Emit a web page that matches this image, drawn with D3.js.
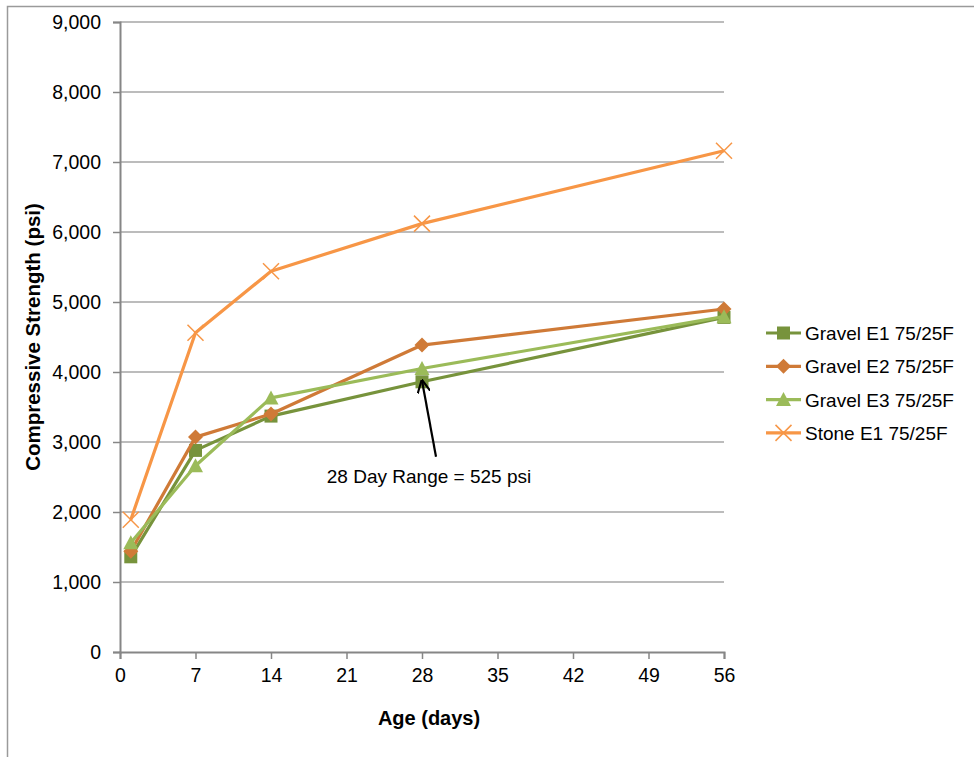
<!DOCTYPE html>
<html>
<head>
<meta charset="utf-8">
<script src="https://cdn.jsdelivr.net/npm/d3@7"></script>
<style>
  html, body { margin: 0; padding: 0; background: #fff; }
  svg { display: block; font-family: "Liberation Sans", Arial, sans-serif; }
</style>
</head>
<body>
<svg id="chart" width="974" height="757"></svg>
<script>
// Test ages (days)
const ages = [1, 7, 14, 28, 56];

// Compressive strength (psi) for each mix
const gravelE1 = [1360, 2880, 3370, 3860, 4780];
const gravelE2 = [1440, 3070, 3400, 4385, 4900];
const gravelE3 = [1560, 2660, 3630, 4050, 4790];
const stoneE1  = [1890, 4560, 5440, 6120, 7160];

const seriesNames = ["Gravel E1 75/25F", "Gravel E2 75/25F", "Gravel E3 75/25F", "Stone E1 75/25F"];
const xTicks = [0, 7, 14, 21, 28, 35, 42, 49, 56];
const yTicks = [0, 1000, 2000, 3000, 4000, 5000, 6000, 7000, 8000, 9000];

// Annotation: 28-day spread between highest and lowest gravel mix
const rangeNote = "28 Day Range = 525 psi";

const series = [
  { name: seriesNames[0], values: gravelE1, color: "#77933C", marker: "square" },
  { name: seriesNames[1], values: gravelE2, color: "#CF7A37", marker: "diamond" },
  { name: seriesNames[2], values: gravelE3, color: "#9BBB59", marker: "triangle" },
  { name: seriesNames[3], values: stoneE1,  color: "#F79646", marker: "cross" }
];

const svg = d3.select("#chart");
const plot = { left: 120, top: 22, right: 724, bottom: 652 };

const x = d3.scaleLinear().domain([0, 56]).range([plot.left, plot.right]);
const y = d3.scaleLinear().domain([0, 9000]).range([plot.bottom, plot.top]);

// Outer chart frame
svg.append("rect")
  .attr("x", 7.5).attr("y", 6.5)
  .attr("width", 1000).attr("height", 1000)
  .attr("fill", "none").attr("stroke", "#9a9a9a").attr("stroke-width", 1.5);

// Horizontal gridlines
svg.append("g")
  .selectAll("line")
  .data(yTicks.filter(d => d > 0))
  .join("line")
  .attr("x1", plot.left).attr("x2", plot.right)
  .attr("y1", d => y(d)).attr("y2", d => y(d))
  .attr("stroke", "#a6a6a6").attr("stroke-width", 1.5);

// Axes
const fmt = d3.format(",");
const yAxis = svg.append("g")
  .attr("transform", `translate(${plot.left},0)`)
  .call(d3.axisLeft(y).tickValues(yTicks).tickFormat(fmt).tickSize(7).tickPadding(12));
const xAxis = svg.append("g")
  .attr("transform", `translate(0,${plot.bottom})`)
  .call(d3.axisBottom(x).tickValues(xTicks).tickSize(7).tickPadding(9));

[yAxis, xAxis].forEach(g => {
  g.select(".domain").attr("stroke", "#868686").attr("stroke-width", 2);
  g.selectAll(".tick line").attr("stroke", "#868686").attr("stroke-width", 1.5);
  g.selectAll(".tick text")
    .attr("fill", "#000")
    .style("font-size", "19.5px")
    .style("font-family", "'Liberation Sans', Arial, sans-serif");
});

// Axis titles
svg.append("text")
  .attr("x", 429).attr("y", 725)
  .attr("text-anchor", "middle")
  .style("font-size", "20px").style("font-weight", "bold")
  .text("Age (days)");

svg.append("text")
  .attr("transform", `translate(40,${(plot.top + plot.bottom) / 2}) rotate(-90)`)
  .attr("text-anchor", "middle")
  .style("font-size", "20.5px").style("font-weight", "bold")
  .text("Compressive Strength (psi)");

// Marker drawing
function drawMarker(g, type, color) {
  if (type === "square") {
    g.append("rect").attr("x", -6.5).attr("y", -6.5).attr("width", 13).attr("height", 13).attr("fill", color);
  } else if (type === "diamond") {
    g.append("path").attr("d", "M0,-7.5L7.5,0L0,7.5L-7.5,0Z").attr("fill", color);
  } else if (type === "triangle") {
    g.append("path").attr("d", "M0,-7.5L7.5,6.5L-7.5,6.5Z").attr("fill", color);
  } else if (type === "cross") {
    g.append("path").attr("d", "M-8,-8L8,8M-8,8L8,-8")
      .attr("stroke", color).attr("stroke-width", 1.5).attr("fill", "none");
  }
}

const line = d3.line().x((d, i) => x(ages[i])).y(d => y(d));

series.forEach(s => {
  const g = svg.append("g");
  g.append("path")
    .attr("d", line(s.values))
    .attr("fill", "none")
    .attr("stroke", s.color)
    .attr("stroke-width", 3.2)
    .attr("stroke-linejoin", "round");
  s.values.forEach((v, i) => {
    const m = g.append("g").attr("transform", `translate(${x(ages[i])},${y(v)})`);
    drawMarker(m, s.marker, s.color);
  });
});

// Range annotation with arrow pointing at the 28-day low value
svg.append("defs").append("marker")
  .attr("id", "arrowhead")
  .attr("viewBox", "0 0 10 10")
  .attr("refX", 9).attr("refY", 5)
  .attr("markerWidth", 6).attr("markerHeight", 6)
  .attr("markerUnits", "strokeWidth")
  .attr("orient", "auto")
  .append("path")
  .attr("d", "M0,0L10,5L0,10")
  .attr("fill", "none").attr("stroke", "#000").attr("stroke-width", 1.6);

const arrowTail = { age: 29.3, psi: 2790 };
svg.append("line")
  .attr("x1", x(arrowTail.age)).attr("y1", y(arrowTail.psi))
  .attr("x2", x(28)).attr("y2", y(gravelE1[3]) - 1)
  .attr("stroke", "#000").attr("stroke-width", 2.2)
  .attr("marker-end", "url(#arrowhead)");

svg.append("text")
  .attr("x", 429).attr("y", 483)
  .attr("text-anchor", "middle")
  .style("font-size", "19px")
  .text(rangeNote);

// Legend
const legend = svg.append("g").attr("transform", "translate(766,333)");
series.forEach((s, i) => {
  const row = legend.append("g").attr("transform", `translate(0,${i * 33.3})`);
  row.append("line").attr("x1", 0).attr("x2", 35).attr("y1", 0).attr("y2", 0)
    .attr("stroke", s.color).attr("stroke-width", 3.2);
  const m = row.append("g").attr("transform", "translate(17.5,0)");
  drawMarker(m, s.marker, s.color);
  row.append("text")
    .attr("x", 39).attr("y", 7)
    .style("font-size", "19px")
    .text(s.name);
});
</script>
</body>
</html>
